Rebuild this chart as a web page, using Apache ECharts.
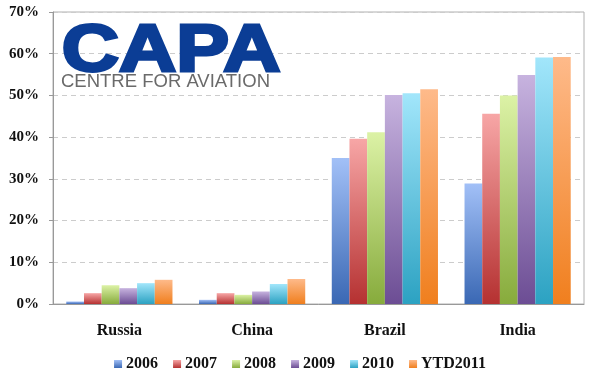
<!DOCTYPE html>
<html><head><meta charset="utf-8">
<script src="https://cdn.jsdelivr.net/npm/echarts@6/dist/echarts.min.js"></script>
<style>html,body{margin:0;padding:0;background:#fff}#c{width:600px;height:380px}</style>
</head><body><div id="c"></div>
<script>
var categories = ['Russia', 'China', 'Brazil', 'India'];
var seriesNames = ['2006', '2007', '2008', '2009', '2010', 'YTD2011'];
var v2006 = [0.6, 1.0, 35.0, 28.9];
var v2007 = [2.6, 2.6, 39.6, 45.6];
var v2008 = [4.5, 2.2, 41.2, 50.0];
var v2009 = [3.8, 3.0, 50.1, 54.9];
var v2010 = [5.0, 4.8, 50.5, 59.1];
var vYTD2011 = [5.8, 6.0, 51.5, 59.2];
var yTicks = [0, 10, 20, 30, 40, 50, 60, 70];

var values = [v2006, v2007, v2008, v2009, v2010, vYTD2011];
var grads = [
  ['#a2c0f7', '#3a68b4'],
  ['#f7a6a6', '#b53131'],
  ['#dcf2a6', '#87ab3c'],
  ['#c7b3df', '#6c4d94'],
  ['#a2e6fb', '#2ca2c2'],
  ['#feba8a', '#f07f1e']
];
var serif = '"Liberation Serif", "DejaVu Serif", serif';
var chart = echarts.init(document.getElementById('c'));
chart.setOption({
  animation: false,
  grid: {left: 53, right: 16, top: 12, bottom: 76, show: true, borderColor: '#b0b0b0', borderWidth: 1},
  legend: {
    bottom: 3, left: 'center', itemWidth: 8, itemHeight: 8, itemGap: 15,
    icon: 'rect',
    textStyle: {fontFamily: serif, fontWeight: 'bold', fontSize: 16, color: '#111', padding: [0, 0, 0, -1]},
    data: seriesNames
  },
  xAxis: {
    type: 'category', data: categories,
    axisLine: {lineStyle: {color: '#999'}},
    axisTick: {length: 4, lineStyle: {color: '#999'}},
    axisLabel: {fontFamily: serif, fontWeight: 'bold', fontSize: 16, color: '#111', margin: 19}
  },
  yAxis: {
    type: 'value', min: yTicks[0], max: yTicks[yTicks.length - 1], interval: 10,
    axisLine: {show: true, lineStyle: {color: '#999'}},
    axisTick: {show: true, length: 4, lineStyle: {color: '#999'}},
    splitLine: {lineStyle: {color: '#ccc', type: [5, 4]}},
    axisLabel: {formatter: '{value}%', fontFamily: serif, fontWeight: 'bold', fontSize: 15, color: '#111', margin: 14, padding: [5, 0, 0, 0]}
  },
  graphic: [
    {type: 'text', left: 60, top: 18, scaleX: 1.2, style: {text: 'CAPA', font: 'bold 66px "Liberation Sans", Arial, sans-serif', fill: '#0b3d95', stroke: '#0b3d95', lineWidth: 3}, z: 100},
    {type: 'text', left: 61, top: 72, style: {text: 'CENTRE FOR AVIATION', font: '18.5px "Liberation Sans", Arial, sans-serif', fill: '#6a6a6a'}, z: 100}
  ],
  series: seriesNames.map(function (n, i) {
    return {
      name: n, type: 'bar', data: values[i], barGap: '0%', barCategoryGap: '20%',
      itemStyle: {color: {type: 'linear', x: 0, y: 0, x2: 0, y2: 1, colorStops: [{offset: 0, color: grads[i][0]}, {offset: 1, color: grads[i][1]}]}}
    };
  })
});
</script></body></html>
